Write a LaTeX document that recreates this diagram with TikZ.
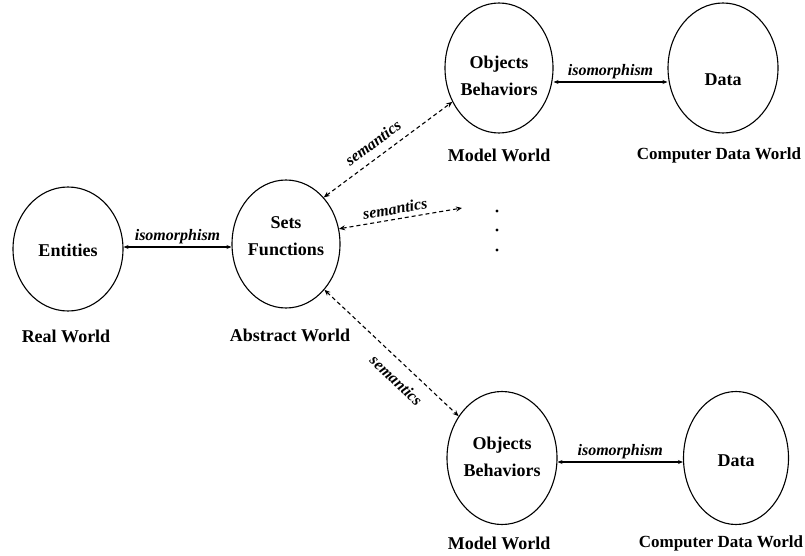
\documentclass[tikz,border=0pt]{standalone}
\usepackage{fontspec}
\setmainfont{Liberation Serif}
\usetikzlibrary{arrows.meta,shapes.geometric}
\begin{document}
\begin{tikzpicture}[x=1pt,y=-1pt,
  world/.style={draw,line width=1.1pt,ellipse,inner sep=0pt},
  wtxt/.style={font=\bfseries\fontsize{18}{27}\selectfont,align=center},
  ctxt/.style={font=\bfseries\fontsize{17}{20}\selectfont},
  rel/.style={font=\bfseries\itshape\fontsize{16}{18}\selectfont},
  iso/.style={line width=1.1pt,{Stealth[length=5pt,width=4pt]}-{Stealth[length=5pt,width=4pt]}},
  sem/.style={line width=1.1pt,dash pattern=on 4pt off 3pt,{Stealth[length=6pt,width=5pt]}-{Stealth[length=6pt,width=5pt]}}]
\useasboundingbox (0,0) rectangle (805,556);
% ellipses
\node[world,minimum width=110pt,minimum height=124pt] (ent) at (68,249) {};
\node[world,minimum width=108pt,minimum height=128pt] (sets) at (286,244) {};
\node[world,minimum width=108pt,minimum height=130pt] (tobj) at (499,68) {};
\node[world,minimum width=110pt,minimum height=130pt] (tdat) at (723,68) {};
\node[world,minimum width=110pt,minimum height=133pt] (bobj) at (502,458) {};
\node[world,minimum width=105pt,minimum height=133pt] (bdat) at (736,458) {};
% texts inside
\node[wtxt] (tent) at (68,250) {Entities};
\node[wtxt] (tsets) at (286,236) {Sets\\Functions};
\node[wtxt] (ttobj) at (499,76) {Objects\\Behaviors};
\node[wtxt] (ttdat) at (723,80) {Data};
\node[wtxt] (tbobj) at (502,457) {Objects\\Behaviors};
\node[wtxt] (tbdat) at (736,461) {Data};
% world labels
\node[wtxt] (lreal) at (66,336) {Real World};
\node[wtxt] (labs) at (290,335) {Abstract World};
\node[wtxt] (lmod1) at (499,155) {Model World};
\node[ctxt] (lcomp1) at (719,155) {Computer Data World};
\node[wtxt] (lmod2) at (499,543) {Model World};
\node[ctxt] (lcomp2) at (721,543) {Computer Data World};
% isomorphisms
\draw[iso] (ent.east |- 0,247) -- node[rel,above=-1pt] {isomorphism} (sets.west |- 0,247);
\draw[iso] (tobj.east |- 0,82) -- node[rel,above=-1pt] {isomorphism} (tdat.west |- 0,82);
\draw[iso] (bobj.east |- 0,462) -- node[rel,above=-1pt] {isomorphism} (bdat.west |- 0,462);
% semantics
\coordinate (dotend) at (462,208);
\draw[sem] (sets.51) -- node[rel,sloped,above=5pt,pos=0.45] {semantics} (tobj.216);
\draw[sem] (sets.16) -- node[rel,sloped,above=1pt,pos=0.47] {semantics} (dotend);
\draw[sem] (sets.-50) -- node[rel,sloped,below=7pt,pos=0.62] {semantics} (bobj.136);
% dots
\fill (497,211) circle (1.6pt) (497,230) circle (1.6pt) (497,250) circle (1.6pt);
\end{tikzpicture}
\end{document}
